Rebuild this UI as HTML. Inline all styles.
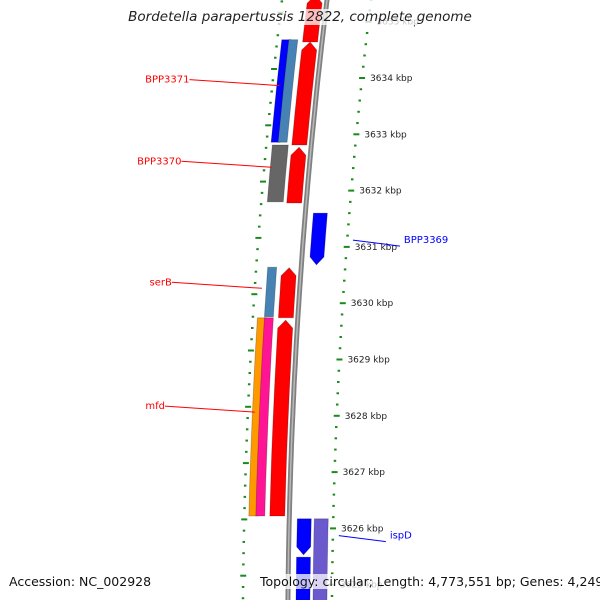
<!DOCTYPE html>
<html><head><meta charset="utf-8">
<style>
html,body{margin:0;padding:0;background:#fff;}
svg{display:block;font-family:"DejaVu Sans","Liberation Sans",sans-serif;}
</style></head>
<body>
<svg id="map" width="600" height="600" viewBox="0 0 600 600" xmlns="http://www.w3.org/2000/svg">
<defs>
  <linearGradient id="bbg" x1="0" x2="1" y1="0" y2="0">
    <stop offset="0" stop-color="#777"/><stop offset="0.45" stop-color="#bbb"/><stop offset="1" stop-color="#666"/>
  </linearGradient>
</defs>
<g id="ticks"></g>
<g id="features"></g>
<g id="labels"></g>
</svg>
<script>
// ---- data ----
const geneNames = ["top-red","BPP3371-fwd","BPP3370-fwd","serB-fwd","mfd-fwd","BPP3369","BPP3371","BPP3371b","BPP3370","serB","mfd","mfd-b","ispD","ispD-b","ispD-c"];
const geneStart = [3635.47,3634.64,3632.77,3630.63,3629.70,3631.60,3634.68,3634.68,3632.81,3630.64,3629.74,3629.74,3626.17,3625.49,3626.17];
const geneEnd   = [3634.64,3632.81,3631.78,3629.74,3626.22,3630.68,3632.86,3632.86,3631.80,3629.76,3626.22,3626.22,3625.53,3624.50,3624.50];
const geneStrand= [1,1,1,1,1,-1,0,0,0,0,0,0,-1,-1,-1];
const geneSlot  = [0,0,0,0,0,1,3,2,4,2,3,2,1,1,5];
const geneColor = ["#ff0000","#ff0000","#ff0000","#ff0000","#ff0000","#0000ff","#0000ff","#4682b4","#666666","#4682b4","#ff9900","#ff1493","#0000ff","#0000ff","#6a5acd"];
const labelText = ["BPP3371","BPP3370","serB","mfd","BPP3369","ispD"];
const labelKb   = [3633.9,3632.45,3630.3,3628.1,3631.05,3625.8];
const labelSide = [-1,-1,-1,-1,1,1];
const labelColor= ["#ff0000","#ff0000","#ff0000","#ff0000","#0000ff","#0000ff"];
const tickKbMin = 3624.4, tickKbMax = 3635.8;

// ---- scales ----
function yOf(kb){ return 78 + (3634 - kb) * 56.3; }
function bx(y){ return 327 - 0.1217*y + 9.44e-5*y*y; }
const slotOff = [-12, 15, -29, -36, -31, 32];
const slotW   = [15, 14, 9, 9, 16, 14];

const NS="http://www.w3.org/2000/svg";
function mk(tag, attrs, parent){ const e=document.createElementNS(NS,tag); for(const k in attrs) e.setAttribute(k,attrs[k]); parent.appendChild(e); return e; }
const svg=document.getElementById('map');
const gT=document.getElementById('ticks'), gF=document.getElementById('features'), gL=document.getElementById('labels');

// backbone
let bp=[]; for(let y=-5;y<=605;y+=10) bp.push((bx(y)).toFixed(1)+","+y);
const bb=mk('polyline',{points:bp.join(' '),fill:'none',stroke:'#808080','stroke-width':5},gF);


const bb2=mk('polyline',{points:bp.join(' '),fill:'none',stroke:'#b8b8b8','stroke-width':1.5},gF);



// ticks
for(let i=0; tickKbMin+i*0.2<=tickKbMax+1e-6; i++){
  const kb=tickKbMin+i*0.2; const major=Math.abs(kb-Math.round(kb))<1e-6;
  const y=yOf(kb);
  const xr=bx(y)+44; const len=major?6:2.5;
  const t=mk('line',{x1:xr-len/2,y1:y,x2:xr+len/2,y2:y,stroke:'#1a8a1a','stroke-width':2},gT);
  
  
  const yl=y-9; const xl=bx(yl)-45;
  const t2=mk('line',{x1:xl-len/2,y1:yl,x2:xl+len/2,y2:yl,stroke:'#1a8a1a','stroke-width':2},gT);
  
  
  if(major){
    const tx=mk('text',{x:xr+8,y:y+3,'font-size':9,fill:'#222'},gT);
    tx.textContent=Math.round(kb)+' kbp';
    
    
  }
}

// features
for(let i=0;i<geneNames.length;i++){
  const y1=yOf(geneStart[i]), y2=yOf(geneEnd[i]);
  const o=slotOff[geneSlot[i]], w=slotW[geneSlot[i]];
  const ah=8; const L=[],R=[];
  const ya = geneStrand[i]===1 ? y1+ah : y1, yb = geneStrand[i]===-1 ? y2-ah : y2;
  for(let k=0;k<=6;k++){ const y=ya+(yb-ya)*k/6; const c=bx(y)+o; L.push([c-w/2,y]); R.push([c+w/2,y]); }
  let pts=[];
  if(geneStrand[i]===1) pts.push([bx(y1)+o,y1]);
  pts=pts.concat(R);
  if(geneStrand[i]===-1) pts.push([bx(y2)+o,y2]);
  pts=pts.concat(L.reverse());
  const p=mk('polygon',{points:pts.map(q=>q[0].toFixed(1)+','+q[1].toFixed(1)).join(' '),fill:geneColor[i],stroke:'rgba(0,0,0,0.25)','stroke-width':0.8},gF);
  
  
}

// labels
for(let i=0;i<labelText.length;i++){
  const y=yOf(labelKb[i]);
  let x0,x1,tx,anchor;
  if(labelSide[i]<0){ x1=bx(y)-38; x0=x1-90; tx=x0-1; anchor='end'; }
  else { x0=bx(y)+50; x1=x0+47; tx=x1+4; anchor='start'; }
  const ln=mk('line',{x1:x0,y1:y-4,x2:x1,y2:y+2,stroke:labelColor[i],'stroke-width':1},gL);
  
  
  const t=mk('text',{x:tx+(labelSide[i]<0?1:0),y:y-1,'font-size':10,fill:labelColor[i],'text-anchor':anchor},gL);
  t.textContent=labelText[i];
  
  
}
</script>
<svg width="0" height="0"></svg>
<div style="position:absolute;left:0;top:0;width:600px;height:600px;pointer-events:none;font-family:'DejaVu Sans','Liberation Sans',sans-serif;">
  <div style="position:absolute;left:0;width:600px;top:9px;text-align:center;font-size:13.5px;font-style:italic;color:#222;"><span style="background:rgba(255,255,255,0.75);padding:0 3px;">Bordetella parapertussis 12822, complete genome</span></div>
  <div style="position:absolute;left:9px;top:574px;font-size:12.5px;color:#111;background:rgba(255,255,255,0.75);">Accession: NC_002928</div>
  <div style="position:absolute;left:260px;top:574px;font-size:12.5px;color:#111;background:rgba(255,255,255,0.75);white-space:nowrap;">Topology: circular; Length: 4,773,551 bp; Genes: 4,249</div>
</div>
</body></html>
